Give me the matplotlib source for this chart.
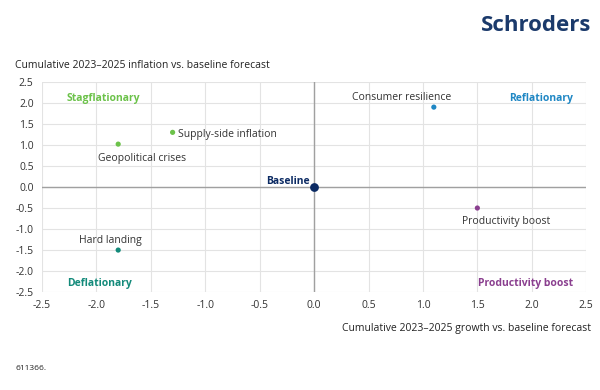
import numpy as np
from matplotlib import pyplot as plt

plt.rcParams['font.family'] = ['Open Sans', 'DejaVu Sans']

# scenarios: growth vs inflation (cumulative 2023-2025 vs baseline)
names = ['Consumer resilience', 'Supply-side inflation', 'Geopolitical crises',
         'Hard landing', 'Productivity boost']
growth = [1.1, -1.3, -1.8, -1.8, 1.5]
inflation = [1.9, 1.3, 1.02, -1.5, -0.5]
colours = ['#1f87c4', '#6cc24a', '#6cc24a', '#138a7a', '#8a3f8f']
label_xy = [(0.8, 2.13), (-1.25, 1.25), (-1.58, 0.68), (-1.87, -1.28), (1.76, -0.83)]
label_ha = ['center', 'left', 'center', 'center', 'center']

quadrants = ['Stagflationary', 'Reflationary', 'Deflationary', 'Productivity boost']
quad_xy = [(-2.27, 2.1), (2.38, 2.1), (-2.27, -2.3), (2.38, -2.3)]
quad_ha = ['left', 'right', 'left', 'right']
quad_col = ['#6cc24a', '#1f87c4', '#138a7a', '#8a3f8f']

ticks = np.arange(-2.5, 2.51, 0.5)

fig = plt.figure(figsize=(6, 3.9), dpi=100)
ax = fig.add_axes([0.07, 0.251, 0.907, 0.539])
ax.set_xlim(-2.5, 2.5)
ax.set_ylim(-2.5, 2.5)
ax.set_xticks(ticks)
ax.set_yticks(ticks)
ax.set_xticklabels([f"{t:.1f}" for t in ticks])
ax.set_yticklabels([f"{t:.1f}" for t in ticks])
ax.tick_params(length=0, labelsize=7.5, colors='#333333', pad=6)
ax.grid(color='#e3e3e3', lw=0.8)
for s in ax.spines.values():
    s.set_visible(False)
ax.axhline(0, color='#a0a0a0', lw=1, zorder=1)
ax.axvline(0, color='#a0a0a0', lw=1, zorder=1)
ax.set_axisbelow(True)

ax.scatter(growth, inflation, s=14, c=colours, zorder=3, linewidths=0)
ax.scatter([0], [0], s=40, c='#0b2a63', zorder=3, linewidths=0)
ax.text(-0.04, 0.14, 'Baseline', ha='right', va='center', fontsize=7.5,
        color='#0b2a63', fontweight='bold')

for n, (lx, ly), ha in zip(names, label_xy, label_ha):
    ax.text(lx, ly, n, ha=ha, va='center', fontsize=7.5, color='#333333')

for q, (qx, qy), ha, c in zip(quadrants, quad_xy, quad_ha, quad_col):
    ax.text(qx, qy, q, ha=ha, va='center', fontsize=7.5, color=c, fontweight='bold')

fig.text(0.025, 0.833, 'Cumulative 2023\u20132025 inflation vs. baseline forecast',
         fontsize=7.5, color='#222222', va='center')
fig.text(0.985, 0.158, 'Cumulative 2023\u20132025 growth vs. baseline forecast',
         fontsize=7.5, color='#222222', ha='right', va='center')
fig.text(0.025, 0.056, '611366.', fontsize=6, color='#222222', va='center')
fig.text(0.985, 0.935, 'Schroders', fontsize=16, color='#1b3a6b', fontweight='bold',
         ha='right', va='center')

fig.savefig('out.png', dpi=100)
